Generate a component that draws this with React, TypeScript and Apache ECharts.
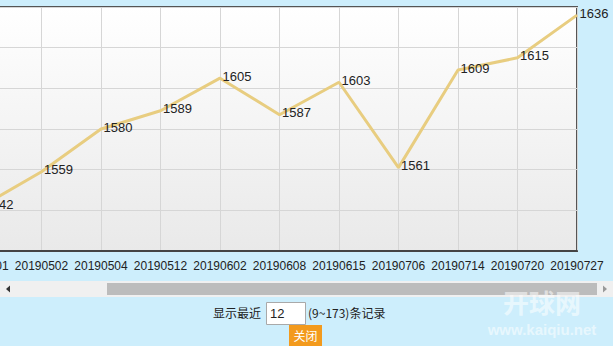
import React, { useEffect, useRef } from "react";
import * as echarts from "echarts";

const categories = [
  "20190501",
  "20190502",
  "20190504",
  "20190512",
  "20190602",
  "20190608",
  "20190615",
  "20190706",
  "20190714",
  "20190720",
  "20190727",
];
const scores = [1542, 1559, 1580, 1589, 1605, 1587, 1603, 1561, 1609, 1615, 1636];
const yMin = 1520;
const yMax = 1640;
const yStep = 20;

const FONT = "'Liberation Sans', Arial, sans-serif";
const CJK = "'Noto Sans CJK SC', 'Liberation Sans', sans-serif";
const SHIFT = 18; // the chart is scrolled left by this many pixels

export default function App() {
  const ref = useRef<HTMLDivElement>(null);
  useEffect(() => {
    if (!ref.current) return;
    const chart = echarts.init(ref.current, undefined, { renderer: "svg" });
    const X = (x: number) => x + SHIFT;
    chart.setOption({
      animation: false,
      backgroundColor: "#cdeefc",
      grid: {
        left: 0,
        right: 36,
        top: 7,
        bottom: 95,
        outerBoundsMode: "none",
        containLabel: false,
        show: true,
        borderColor: "#555",
        borderWidth: 2,
        backgroundColor: new echarts.graphic.LinearGradient(0, 0, 0, 1, [
          { offset: 0, color: "#ffffff" },
          { offset: 1, color: "#e9e9e9" },
        ]),
      },
      xAxis: {
        type: "category",
        data: categories,
        boundaryGap: false,
        axisLine: { lineStyle: { color: "#444", width: 2 } },
        axisTick: { show: false },
        axisLabel: { color: "#222", fontSize: 12, fontFamily: FONT, margin: 9, interval: 0, hideOverlap: false },
        splitLine: { show: true, lineStyle: { color: "#d6d6d6" } },
      },
      yAxis: {
        type: "value",
        min: yMin,
        max: yMax,
        interval: yStep,
        axisLine: { show: false },
        axisTick: { show: false },
        axisLabel: { show: false },
        splitLine: { show: true, lineStyle: { color: "#d6d6d6" } },
      },
      series: [
        {
          type: "line",
          data: scores,
          symbol: "circle",
          symbolSize: 1,
          itemStyle: { color: "rgba(0,0,0,0)" },
          lineStyle: { color: "#e8cd80", width: 3 },
          label: {
            show: true,
            position: "right",
            distance: 2,
            offset: [0, -2],
            color: "#222",
            fontSize: 13,
            fontFamily: FONT,
          },
        },
      ],
      graphic: [
        // scrollbar
        { type: "rect", shape: { x: X(0), y: 281, width: 613, height: 16 }, style: { fill: "#f0f0f0" } },
        { type: "rect", shape: { x: X(107), y: 283, width: 490, height: 12 }, style: { fill: "#bcbcbc" } },
        { type: "polygon", shape: { points: [[X(6), 289], [X(10), 285.5], [X(10), 292.5]] }, style: { fill: "#333" } },
        { type: "polygon", shape: { points: [[X(607), 289], [X(603), 285.5], [X(603), 292.5]] }, style: { fill: "#999" } },
        // controls
        {
          type: "text",
          x: X(213),
          y: 312,
          style: { text: "显示最近", fill: "#222", font: `12px ${CJK}`, verticalAlign: "middle" },
        },
        {
          type: "rect",
          shape: { x: X(266.5), y: 302.5, width: 39, height: 22 },
          style: { fill: "#fff", stroke: "#a9a9a9", lineWidth: 1 },
        },
        {
          type: "text",
          x: X(270),
          y: 313,
          style: { text: "12", fill: "#222", font: `13px ${FONT}`, verticalAlign: "middle" },
        },
        {
          type: "text",
          x: X(308),
          y: 312,
          style: { text: "(9~173)条记录", fill: "#222", font: `12px ${CJK}`, verticalAlign: "middle" },
        },
        { type: "rect", shape: { x: X(289), y: 325, width: 33, height: 21 }, style: { fill: "#f39a1d" } },
        {
          type: "text",
          x: X(305.5),
          y: 335,
          style: { text: "关闭", fill: "#fff", font: `12px ${CJK}`, align: "center", verticalAlign: "middle" },
        },
        // watermark
        {
          type: "text",
          x: X(542),
          y: 301,
          z: 10,
          style: {
            text: "开球网",
            fill: "rgba(255,255,255,0.55)",
            font: `bold 26px ${CJK}`,
            align: "center",
            verticalAlign: "middle",
          },
        },
        {
          type: "text",
          x: X(542),
          y: 329,
          z: 10,
          style: {
            text: "www.kaiqiu.net",
            fill: "rgba(255,255,255,0.55)",
            font: `bold 15px ${FONT}`,
            align: "center",
            verticalAlign: "middle",
          },
        },
      ],
    });
    return () => chart.dispose();
  }, []);
  return (
    <div
      style={{
        position: "fixed",
        left: 0,
        top: 0,
        width: 613,
        height: 346,
        overflow: "hidden",
        background: "#cdeefc",
      }}
    >
      <div ref={ref} style={{ position: "absolute", left: -SHIFT, top: 0, width: 613 + SHIFT, height: 346 }} />
    </div>
  );
}
